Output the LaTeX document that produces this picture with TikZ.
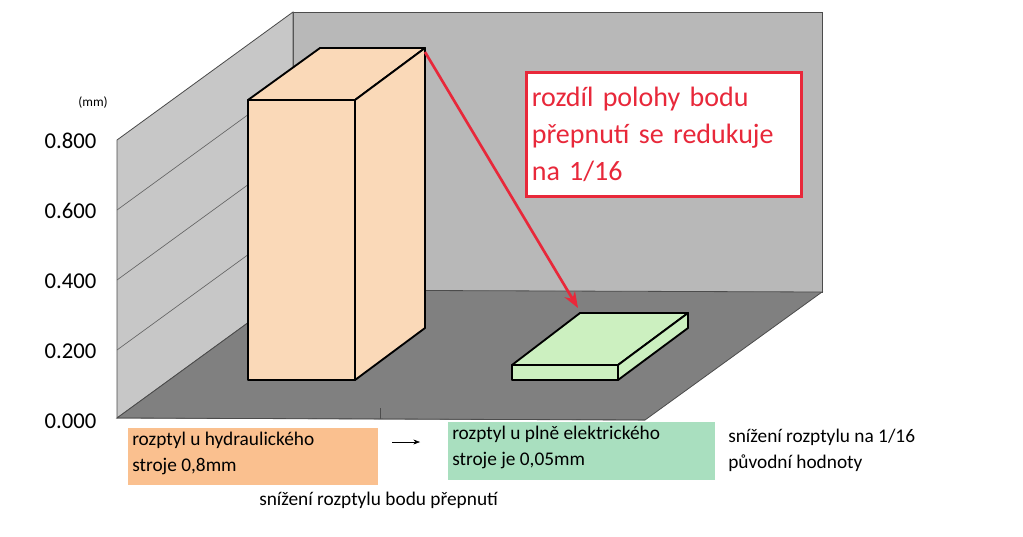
\documentclass[tikz,border=0pt]{standalone}
\usepackage{fontspec}
\usetikzlibrary{arrows.meta}
\setmainfont{Carlito}
\definecolor{rd}{HTML}{E8283A}
\definecolor{peach}{HTML}{FAD9B8}
\definecolor{lgreen}{HTML}{CCF0C0}
\definecolor{lorange}{HTML}{FAC08F}
\definecolor{mgreen}{HTML}{A9DFBF}
\begin{document}
\begin{tikzpicture}[x=0.75pt,y=-0.75pt,
 wall/.style={fill=black!25,draw=black!70,line width=0.6pt},
 bar/.style={draw=black,line width=1.4pt,line join=round},
 lbl/.style={anchor=north west,align=left,font=\fontsize{14.5}{19}\selectfont,inner sep=3pt},
 ax/.style={anchor=east,font=\fontsize{17}{20}\selectfont}]
\useasboundingbox (0,0) rectangle (1023,536);
\fill[white] (0,0) rectangle (1023,536);
% walls
\draw[wall,fill=black!28] (293,12) rectangle (822,292);
\draw[wall,fill=black!22] (117,140) -- (293,12) -- (293,290) -- (117,418) -- cycle;
\draw[wall,fill=black!50] (117,418) -- (293,290) -- (822,292) -- (645,420) -- cycle;
\foreach \y in {210,280,350}{
  \draw[black!60,line width=0.5pt] (117,\y) -- (293,\y-128);}
\draw[black!70] (117,418) -- (645,420);
\draw[black!70] (380,408) -- (380,419);
% axis labels
\node[ax] (t0) at (101,141) {0.800};
\node[ax] (t1) at (101,211) {0.600};
\node[ax] (t2) at (101,281) {0.400};
\node[ax] (t3) at (101,351) {0.200};
\node[ax] (t4) at (101,421) {0.000};
\node[font=\fontsize{10}{12}\selectfont] (mm) at (93,103) {(mm)};
% tall bar
\draw[bar,fill=peach] (248,100) rectangle (355,380);
\draw[bar,fill=peach] (248,100) -- (320,48) -- (425,48) -- (355,100) -- cycle;
\draw[bar,fill=peach] (355,100) -- (425,48) -- (425,328) -- (355,380) -- cycle;
% small bar
\draw[bar,fill=lgreen] (512,365) rectangle (618,380);
\draw[bar,fill=lgreen] (512,365) -- (580,313) -- (688,313) -- (618,365) -- cycle;
\draw[bar,fill=lgreen] (618,365) -- (688,313) -- (688,328) -- (618,380) -- cycle;
\coordinate (a1) at (425,52);
\coordinate (a2) at (578,308);
\draw[rd,line width=2pt,-{Stealth[length=12pt,width=9pt]}] (a1) -- (a2);
% red box
\node[draw=rd,line width=2.2pt,fill=white,anchor=north west,minimum width=206pt,minimum height=93pt,
 text=rd,align=left,font=\fontsize{21}{28}\selectfont,text width=198pt,inner sep=4pt] (note) at (525,71)
 {rozdíl polohy bodu\\ přepnutí se redukuje\\ na 1/16};
% labels
\fill[lorange] (128,428) rectangle (378,485);
\node[lbl] (l1) at (128,428) {rozptyl u hydraulického\\stroje 0,8mm};
\fill[mgreen] (448,422) rectangle (715,480);
\node[lbl] (l2) at (448,422) {rozptyl u plně elektrického\\stroje je 0,05mm};
\draw[-{Stealth[length=5pt]}] (392,442) -- (420,442);
\node[lbl] (l3) at (724,425) {snížení rozptylu na 1/16\\původní hodnoty};
\node[lbl] (l4) at (255,488) {snížení rozptylu bodu přepnutí};
\end{tikzpicture}
\end{document}
